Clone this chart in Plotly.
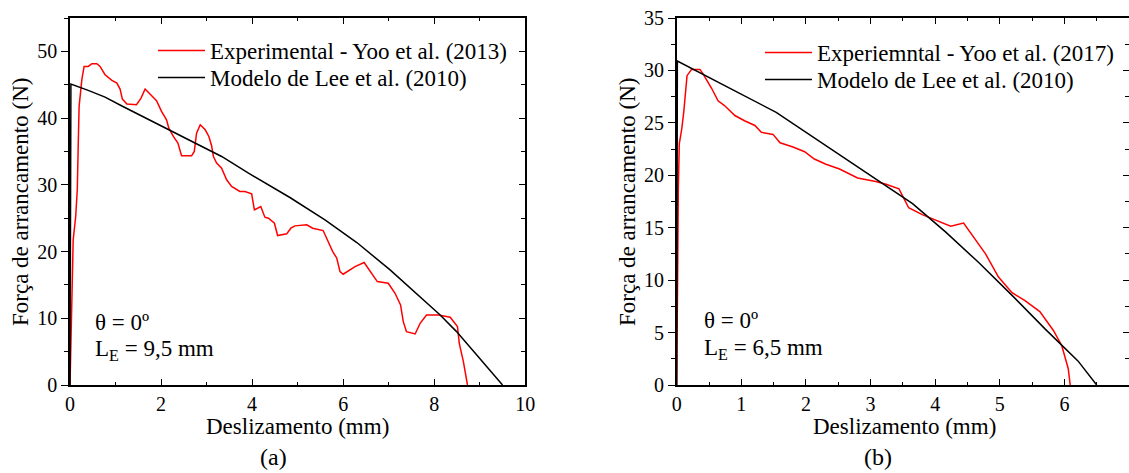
import plotly.graph_objects as go

# (a) Yoo et al. (2013) pull-out test, L_E = 9,5 mm
slip_a_exp = [0, 0.02, 0.05, 0.07, 0.125, 0.16, 0.18, 0.2, 0.26, 0.31, 0.40, 0.48, 0.59, 0.66,
              0.77, 0.92, 1.03, 1.10, 1.15, 1.25, 1.46, 1.56, 1.65, 1.79, 1.90, 2.01, 2.12, 2.17,
              2.27, 2.37, 2.45, 2.67, 2.73, 2.78, 2.86, 2.97, 3.05, 3.11, 3.15, 3.22, 3.33, 3.44,
              3.55, 3.73, 3.84, 3.99, 4.05, 4.19, 4.28, 4.36, 4.49, 4.56, 4.76, 4.85, 4.94, 5.20,
              5.33, 5.56, 5.77, 5.86, 5.93, 6.00, 6.26, 6.46, 6.63, 6.75, 6.99, 7.14, 7.26, 7.32,
              7.39, 7.58, 7.69, 7.83, 8.09, 8.35, 8.51, 8.55, 8.64, 8.73]
force_a_exp = [0, 8, 16, 21.75, 25.25, 29.25, 35.75, 41.75, 45.75, 47.75, 47.75, 48.15, 48.15,
               47.75, 46.5, 45.65, 45.25, 44.35, 42.85, 42.1, 42.0, 43.0, 44.35, 43.35, 42.6,
               41.0, 39.75, 38.5, 37.25, 36.25, 34.35, 34.35, 35.0, 37.75, 39.0, 38.25, 37.25,
               35.85, 34.25, 33.25, 32.5, 30.75, 29.75, 29.0, 29.0, 28.65, 26.25, 26.75, 25.15,
               25.0, 24.25, 22.4, 22.65, 23.5, 23.85, 24.0, 23.5, 23.15, 20.0, 19.0, 17.0, 16.6,
               17.75, 18.35, 16.75, 15.5, 15.25, 13.75, 12.0, 9.5, 8.0, 7.65, 9.25, 10.5, 10.5,
               10.15, 8.75, 6.25, 3.5, 0.0]

# (a) Lee et al. (2010) model
slip_a_mod = [0, 0.02, 0.40, 0.77, 1.13, 1.57, 2.16, 2.75, 3.33, 3.92, 4.50, 4.83, 5.60, 6.30,
              7.03, 7.72, 8.13, 8.49, 9.00, 9.50]
force_a_mod = [0, 45.1, 44.15, 43.15, 41.85, 40.35, 38.35, 36.25, 34.25, 31.75, 29.5, 28.1,
               24.75, 21.35, 17.25, 13.0, 10.5, 8.0, 4.0, 0]

# (b) Yoo et al. (2017) pull-out test, L_E = 6,5 mm
slip_b_exp = [0, 0.005, 0.01, 0.025, 0.04, 0.08, 0.11, 0.16, 0.23, 0.36, 0.41, 0.54, 0.64, 0.74,
              0.90, 1.05, 1.21, 1.31, 1.49, 1.60, 1.80, 1.98, 2.13, 2.31, 2.52, 2.67, 2.80, 3.08,
              3.24, 3.44, 3.59, 3.80, 4.03, 4.24, 4.44, 4.62, 4.78, 4.98, 5.19, 5.39, 5.62, 5.83,
              5.96, 6.06, 6.09]
force_b_exp = [0, 6, 13.95, 18.7, 23.0, 24.5, 26.1, 29.5, 30.1, 30.1, 29.65, 28.3, 27.1, 26.65,
               25.7, 25.2, 24.75, 24.1, 23.9, 23.1, 22.7, 22.25, 21.55, 21.05, 20.6, 20.15, 19.75,
               19.4, 19.15, 18.7, 16.9, 16.25, 15.7, 15.15, 15.45, 13.95, 12.5, 10.3, 8.8, 8.05,
               7.0, 5.2, 3.75, 1.55, 0.0]

# (b) Lee et al. (2010) model
slip_b_mod = [0, 0.01, 1.54, 3.13, 3.65, 4.16, 4.67, 5.19, 5.70, 6.21, 6.50]
force_b_mod = [0, 30.9, 26.0, 19.4, 17.3, 14.6, 11.7, 8.55, 5.35, 2.3, 0]

legend_a = ["Experimental - Yoo et al. (2013)", "Modelo de Lee et al. (2010)"]
legend_b = ["Experiemntal - Yoo et al. (2017)", "Modelo de Lee et al. (2010)"]

FONT = "Liberation Serif, Times New Roman, serif"
RED = "#ff0000"
BLACK = "#000000"
TXT = 23

fig = go.Figure()

# one legend per entry so each row can be placed on its own
fig.add_trace(go.Scatter(x=slip_a_exp, y=force_a_exp, mode="lines", name=legend_a[0],
                         line=dict(color=RED, width=1.5), xaxis="x", yaxis="y", legend="legend"))
fig.add_trace(go.Scatter(x=slip_a_mod, y=force_a_mod, mode="lines", name=legend_a[1],
                         line=dict(color=BLACK, width=1.5), xaxis="x", yaxis="y", legend="legend2"))
fig.add_trace(go.Scatter(x=slip_b_exp, y=force_b_exp, mode="lines", name=legend_b[0],
                         line=dict(color=RED, width=1.5), xaxis="x2", yaxis="y2", legend="legend3"))
fig.add_trace(go.Scatter(x=slip_b_mod, y=force_b_mod, mode="lines", name=legend_b[1],
                         line=dict(color=BLACK, width=1.5), xaxis="x2", yaxis="y2", legend="legend4"))
# empty traces that carry the right-hand tick axes
fig.add_trace(go.Scatter(x=[], y=[], xaxis="x", yaxis="y3", showlegend=False, hoverinfo="skip"))
fig.add_trace(go.Scatter(x=[], y=[], xaxis="x2", yaxis="y4", showlegend=False, hoverinfo="skip"))

LW = 1.6
tickfont = dict(family=FONT, size=20, color=BLACK)


def xaxis(rng, dtick, minor, domain, anchor):
    return dict(range=rng, dtick=dtick, tick0=0, domain=domain, anchor=anchor,
                ticks="inside", ticklen=6, tickwidth=1.3, tickcolor=BLACK,
                minor=dict(dtick=minor, tick0=0, ticks="inside", ticklen=3.5,
                           tickwidth=1.3, tickcolor=BLACK, showgrid=False),
                showline=True, linewidth=LW, linecolor=BLACK, mirror="ticks",
                showgrid=False, zeroline=False, tickfont=tickfont, fixedrange=True,
                automargin=False)


def yaxis(rng, dtick, minor, anchor):
    return dict(range=rng, dtick=dtick, tick0=0, domain=[0, 1], anchor=anchor,
                ticks="outside", ticklen=7, tickwidth=1.3, tickcolor=BLACK,
                minor=dict(dtick=minor, tick0=0, ticks="outside", ticklen=4,
                           tickwidth=1.3, tickcolor=BLACK, showgrid=False),
                showline=True, linewidth=LW, linecolor=BLACK, mirror=True,
                showgrid=False, zeroline=False, tickfont=tickfont, fixedrange=True,
                automargin=False)


def right_ticks(rng, dtick, minor, anchor, over):
    return dict(range=rng, dtick=dtick, tick0=0, anchor=anchor, overlaying=over, side="right",
                ticks="inside", ticklen=6, tickwidth=1.3, tickcolor=BLACK,
                minor=dict(dtick=minor, tick0=0, ticks="inside", ticklen=4,
                           tickwidth=1.3, tickcolor=BLACK, showgrid=False),
                showline=False, showticklabels=False, showgrid=False, zeroline=False,
                fixedrange=True, automargin=False)


W, H = 1129, 473
ML, MR, MT, MB = 70, 0, 18, 88
PW, PH = W - ML - MR, H - MT - MB


def px(xp):
    return (xp - ML) / PW


def py(yp):
    return (H - MB - yp) / PH


def legend_at(xp, yp):
    return dict(x=px(xp), y=py(yp), xanchor="left", yanchor="top",
                bgcolor="rgba(0,0,0,0)", borderwidth=0, itemwidth=47,
                font=dict(family=FONT, size=TXT, color=BLACK))


fig.update_layout(
    template="none",
    width=W, height=H,
    margin=dict(l=ML, r=MR, t=MT, b=MB, autoexpand=False),
    paper_bgcolor="white", plot_bgcolor="white",
    font=dict(family=FONT, size=TXT, color=BLACK),
    xaxis=xaxis([0, 10], 2, 1, [0, px(525.3)], "y"),
    yaxis=yaxis([0, 55], 10, 5, "x"),
    xaxis2=xaxis([0, 7], 1, 0.5, [px(676.7), 1], "y2"),
    yaxis2=yaxis([0, 35], 5, 2.5, "x2"),
    yaxis3=right_ticks([0, 55], 10, 5, "x", "y"),
    yaxis4=right_ticks([0, 35], 5, 2.5, "x2", "y2"),
    legend=legend_at(153, 29),
    legend2=legend_at(153, 56),
    legend3=legend_at(760, 31),
    legend4=legend_at(760, 58),
    showlegend=True,
)

labels = [
    dict(text="Deslizamento (mm)", x=px(297.5), y=py(427)),
    dict(text="Deslizamento (mm)", x=px(904), y=py(427)),
    dict(text="(a)", x=px(273), y=py(457), size=24),
    dict(text="(b)", x=px(878), y=py(457), size=24),
    dict(text="Força de arrancamento (N)", x=px(20), y=py(202), textangle=-90),
    dict(text="Força de arrancamento (N)", x=px(627), y=py(202), textangle=-90),
    dict(text="θ = 0º", x=px(93), y=py(322), xanchor="left"),
    dict(text="L<sub>E</sub> = 9,5 mm", x=px(93), y=py(350), xanchor="left"),
    dict(text="θ = 0º", x=px(702), y=py(320), xanchor="left"),
    dict(text="L<sub>E</sub> = 6,5 mm", x=px(702), y=py(349), xanchor="left"),
]
for a in labels:
    a.setdefault("xanchor", "center")
    size = a.pop("size", TXT)
    fig.add_annotation(xref="paper", yref="paper", yanchor="middle", showarrow=False,
                       font=dict(family=FONT, size=size, color=BLACK), **a)

fig.write_html("out.html")
